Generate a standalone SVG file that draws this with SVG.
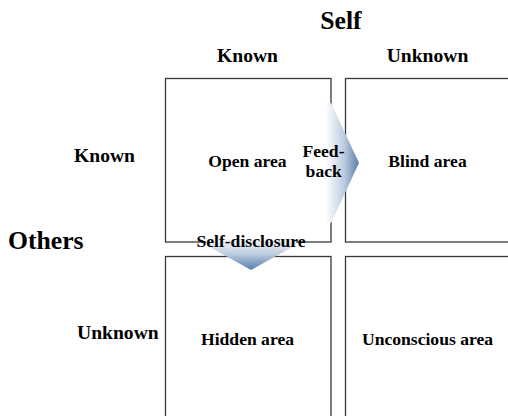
<svg xmlns="http://www.w3.org/2000/svg" width="508" height="416" viewBox="0 0 508 416">
  <defs>
    <linearGradient id="gradRight" x1="0" y1="0" x2="1" y2="0">
      <stop offset="0" stop-color="#ffffff"/>
      <stop offset="0.5" stop-color="#ffffff"/>
      <stop offset="0.78" stop-color="#bccbdf"/>
      <stop offset="1" stop-color="#5a7eab"/>
    </linearGradient>
    <linearGradient id="gradDown" x1="0" y1="0" x2="0" y2="1">
      <stop offset="0" stop-color="#ffffff"/>
      <stop offset="0.5" stop-color="#ffffff"/>
      <stop offset="0.75" stop-color="#bccbdf"/>
      <stop offset="1" stop-color="#5a7eab"/>
    </linearGradient>
  </defs>
  <style>
    .box { fill: #ffffff; stroke: #3a3a3a; stroke-width: 1.3; }
    text { font-family: "Liberation Serif", "Times New Roman", serif; font-weight: bold; fill: #000000; }
    .title { font-size: 25.7px; }
    .head { font-size: 19.6px; }
    .lbl { font-size: 17.6px; text-anchor: middle; }
    .mid { text-anchor: middle; }
  </style>

  <g id="headers">
    <text class="title mid" x="341" y="28.5">Self</text>
    <text class="head mid" x="247.5" y="62.3">Known</text>
    <text class="head mid" x="427.5" y="62.3">Unknown</text>
    <text class="head" x="74" y="162">Known</text>
    <text class="title" x="8" y="249">Others</text>
    <text class="head" x="77" y="339">Unknown</text>
  </g>

  <g id="open-area">
    <rect class="box" x="165.5" y="78.5" width="165.5" height="163.5"/>
  </g>
  <g id="blind-area">
    <rect class="box" x="345.5" y="78.5" width="165.5" height="163.5"/>
  </g>
  <g id="hidden-area">
    <rect class="box" x="165.5" y="256.5" width="165.5" height="163.5"/>
  </g>
  <g id="unconscious-area">
    <rect class="box" x="345.5" y="256.5" width="165.5" height="163.5"/>
  </g>

  <g id="connectors">
    <polygon id="feedback-arrow" points="292,103 331,103 359,163 331,223 292,223" fill="url(#gradRight)"/>
    <polygon id="self-disclosure-arrow" points="206,206 296,206 296,245 251,270 206,245" fill="url(#gradDown)"/>
  </g>

  <g id="labels">
    <text class="lbl" x="247.5" y="167">Open area</text>
    <text class="lbl" x="427.5" y="167">Blind area</text>
    <text class="lbl" x="247.5" y="345">Hidden area</text>
    <text class="lbl" x="427.5" y="345">Unconscious area</text>
    <text class="lbl" x="323.5" y="156.7">Feed-</text>
    <text class="lbl" x="323.7" y="177.3">back</text>
    <text class="lbl" x="251" y="247.3">Self-disclosure</text>
  </g>
</svg>
